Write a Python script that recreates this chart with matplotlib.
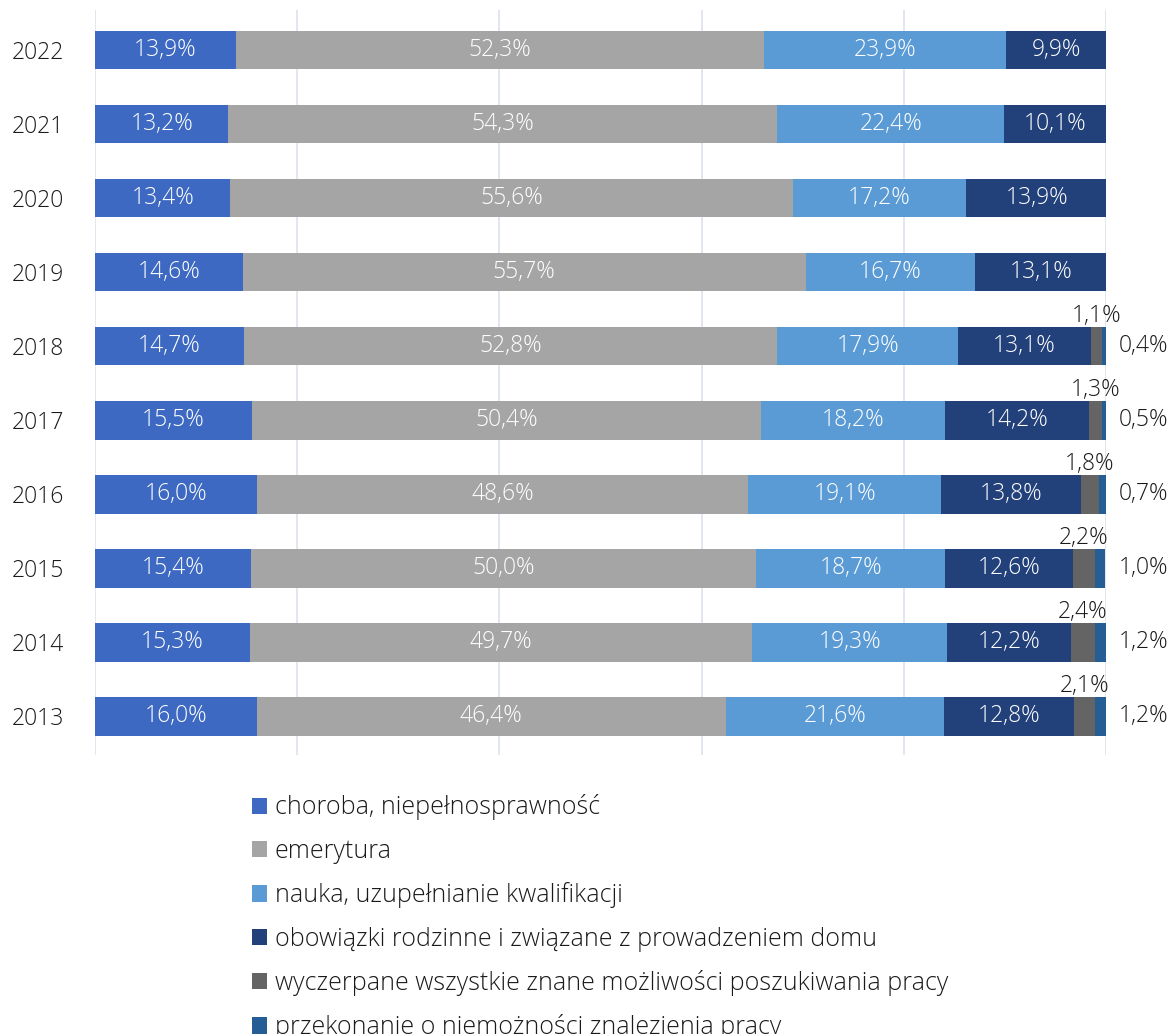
import numpy as np
import matplotlib
matplotlib.use("Agg")
import matplotlib.pyplot as plt
from matplotlib.patches import Patch

plt.rcParams['font.family'] = ['Open Sans', 'DejaVu Sans']
plt.rcParams['font.weight'] = 'light'

years = ['2022', '2021', '2020', '2019', '2018', '2017', '2016', '2015', '2014', '2013']
choroba = [13.9, 13.2, 13.4, 14.6, 14.7, 15.5, 16.0, 15.4, 15.3, 16.0]
emerytura = [52.3, 54.3, 55.6, 55.7, 52.8, 50.4, 48.6, 50.0, 49.7, 46.4]
nauka = [23.9, 22.4, 17.2, 16.7, 17.9, 18.2, 19.1, 18.7, 19.3, 21.6]
obowiazki = [9.9, 10.1, 13.9, 13.1, 13.1, 14.2, 13.8, 12.6, 12.2, 12.8]
wyczerpane = [0, 0, 0, 0, 1.1, 1.3, 1.8, 2.2, 2.4, 2.1]
przekonanie = [0, 0, 0, 0, 0.4, 0.5, 0.7, 1.0, 1.2, 1.2]

labels = ['choroba, niepełnosprawność', 'emerytura', 'nauka, uzupełnianie kwalifikacji',
          'obowiązki rodzinne i związane z prowadzeniem domu',
          'wyczerpane wszystkie znane możliwości poszukiwania pracy',
          'przekonanie o niemożności znalezienia pracy']
colors = ['#3d69c2', '#a5a5a5', '#5b9bd5', '#22407a', '#646464', '#245e94']
series = [choroba, emerytura, nauka, obowiazki, wyczerpane, przekonanie]

fig = plt.figure(figsize=(11.76, 10.34), dpi=100)
ax = fig.add_axes([95/1176, 1-755/1034, 1011/1176, 745/1034])

y = np.arange(len(years))[::-1]
left = np.zeros(len(years))
fs = 16.5
dark = '#1a1a1a'
for i, (vals, col) in enumerate(zip(series, colors)):
    vals = np.array(vals)
    ax.barh(y, vals, left=left, height=0.52, color=col, zorder=2)
    for yy, l, v in zip(y, left, vals):
        if v == 0:
            continue
        txt = f'{v:.1f}%'.replace('.', ',')
        if i < 4:
            # value inside the segment
            ax.text(l + v/2, yy, txt, ha='center', va='center', color='white',
                    fontsize=fs, zorder=3)
        elif i == 4:
            # thin segment: label above the bar
            ax.text(l + v/2, yy + 0.25, txt, ha='center', va='bottom', color=dark,
                    fontsize=fs, zorder=3)
        else:
            # last segment: label right of the bar
            ax.text(101.3, yy, txt, ha='left', va='center', color=dark,
                    fontsize=fs, zorder=3, clip_on=False)
    left += vals

ax.set_xlim(0, 100)
ax.set_ylim(-0.52, 9.54)
ax.set_xticks([0, 20, 40, 60, 80, 100])
ax.set_xticklabels([])
ax.tick_params(axis='x', length=0)
ax.grid(axis='x', color='#dbe2ec', linewidth=1.2, zorder=0)
ax.set_yticks(y)
ax.set_yticklabels(years, fontsize=fs, color=dark)
ax.tick_params(axis='y', length=0, pad=22)
for s in ax.spines.values():
    s.set_visible(False)

handles = [Patch(facecolor=c) for c in colors]
fig.legend(handles, labels, loc='upper left', bbox_to_anchor=(229/1176, 1-772/1034),
           frameon=False, handlelength=0.62, handleheight=0.62,
           handletextpad=0.32, labelspacing=0.735, labelcolor=dark,
           prop={'size': 18, 'weight': 'light'})

fig.savefig('out.png', dpi=100)
